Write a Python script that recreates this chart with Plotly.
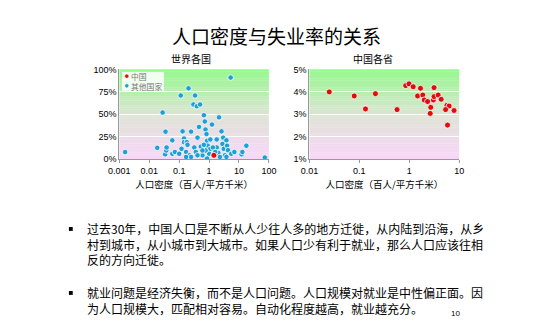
import plotly.graph_objects as go

# ---- data ----
china_density = [1.45]
china_unemp = [4.3]

world_density = [0.00156, 0.0185, 0.028, 0.035, 0.034, 0.037, 0.038, 0.059, 0.059, 0.072,
                 0.113, 0.13, 0.145, 0.145, 0.12, 0.10, 0.205, 0.18, 0.19, 0.17,
                 0.22, 0.25, 0.30, 0.34, 0.39, 0.50, 0.46, 0.41, 0.32, 0.36,
                 0.53, 0.60, 0.67, 0.72, 0.76, 0.82, 0.86, 0.90, 1.1, 1.0,
                 1.1, 1.25, 1.8, 1.8, 2.05, 2.15, 2.6, 2.97, 2.8, 3.1,
                 3.4, 3.8, 4.0, 4.3, 5.5, 7.0, 5.26, 12.2, 13.0, 17.6,
                 73.0, 1.35, 1.4, 0.76, 0.67, 0.60, 0.86, 2.3, 3.8, 1.6,
                 0.25, 0.17, 0.41]
world_unemp = [7.9, 12.6, 52, 30.7, 5.4, 9.7, 13, 21, 6, 8,
               71, 31, 23, 19, 11.5, 6, 79, 19, 16, 8,
               4.3, 30.7, 61, 71, 59, 61, 36, 24, 13, 8,
               14, 4.3, 49, 42, 33, 28, 20.6, 15, 11.5, 6,
               22, 38.6, 22, 13, 7, 46.6, 31, 24, 17, 11.5,
               4.3, 21, 15, 10, 6, 8, 91, 5.4, 8, 15,
               1.8, 13, 4.3, 9.7, 16, 9.7, 0.7, 2.5, 2.5, 8,
               2.5, 2.5, 4.3]

prov_density = [0.025, 0.079, 0.133, 0.21, 0.57, 0.85, 0.99, 1.2, 1.47, 1.68,
                1.87, 2.0, 2.33, 2.63, 2.7, 3.04, 3.14, 3.14, 3.8, 4.36,
                5.7, 6.3, 5.35, 7.9, 5.85]
prov_unemp = [4.0, 3.82, 3.24, 3.92, 3.21, 4.28, 4.36, 4.23, 3.82, 4.16,
              3.86, 3.64, 3.57, 3.04, 3.31, 3.64, 3.79, 4.19, 3.86, 3.67,
              3.4, 3.37, 3.21, 3.17, 2.52]

left_xticks = [0.001, 0.01, 0.1, 1, 10, 100]
left_xticklabels = ["0.001", "0.01", "0.1", "1", "10", "100"]
left_yticks = [0, 25, 50, 75, 100]
left_yticklabels = ["0%", "25%", "50%", "75%", "100%"]
right_xticks = [0.01, 0.1, 1, 10]
right_xticklabels = ["0.01", "0.1", "1", "10"]
right_yticks = [1, 2, 3, 4, 5]
right_yticklabels = ["1%", "2%", "3%", "4%", "5%"]

legend_labels = ["中国", "其他国家"]
title = "人口密度与失业率的关系"
sub_left = "世界各国"
sub_right = "中国各省"
xlabel = "人口密度（百人/平方千米）"
para1 = ["过去30年，中国人口是不断从人少往人多的地方迁徙，从内陆到沿海，从乡",
         "村到城市，从小城市到大城市。如果人口少有利于就业，那么人口应该往相",
         "反的方向迁徙。"]
para2 = ["就业问题是经济失衡，而不是人口问题。人口规模对就业是中性偏正面。因",
         "为人口规模大，匹配相对容易。自动化程度越高，就业越充分。"]

W, H = 540, 329
FONT = "Noto Sans CJK SC"
BLUE = "#1ea0d6"
RED = "#e00d0d"

fig = go.Figure()
fig.add_trace(go.Scatter(x=world_density, y=world_unemp, mode="markers", name=legend_labels[1],
                         marker=dict(color=BLUE, size=5.5, line=dict(color="white", width=0.8)),
                         xaxis="x", yaxis="y", showlegend=False))
fig.add_trace(go.Scatter(x=china_density, y=china_unemp, mode="markers", name=legend_labels[0],
                         marker=dict(color=RED, size=6, line=dict(color="white", width=0.8)),
                         xaxis="x", yaxis="y", showlegend=False))
fig.add_trace(go.Scatter(x=prov_density, y=prov_unemp, mode="markers", name="省",
                         marker=dict(color=RED, size=6, line=dict(color="white", width=0.8)),
                         xaxis="x2", yaxis="y2", showlegend=False))


def px_x(p):
    return p / W


def px_y(p):
    return 1 - p / H


ydom = [px_y(159), px_y(66.5)]
xdom1 = [px_x(112.3), px_x(267.3)]
xdom2 = [px_x(309.3), px_x(464.5)]

axis_common = dict(showline=True, linecolor="#999999", linewidth=1, mirror=False,
                   tickfont=dict(family="Liberation Sans, Arial", size=9, color="#000"),
                   zeroline=False)

fig.update_layout(
    width=W, height=H, margin=dict(l=0, r=0, t=0, b=0),
    paper_bgcolor="white", plot_bgcolor="rgba(0,0,0,0)",
    font=dict(family=FONT, color="#000"),
    xaxis=dict(type="log", domain=xdom1, range=[-3, 2], tickvals=left_xticks,
               ticktext=left_xticklabels, ticks="outside", ticklen=3, tickcolor="#999",
               showgrid=False, anchor="y",
               title=dict(text=xlabel, font=dict(size=9.5, family=FONT), standoff=6),
               **axis_common),
    yaxis=dict(domain=ydom, range=[0, 100], tickvals=left_yticks, ticktext=left_yticklabels,
               showgrid=True, gridcolor="white", gridwidth=1.2, ticks="", anchor="x",
               **axis_common),
    xaxis2=dict(type="log", domain=xdom2, range=[-2, 1], tickvals=right_xticks,
                ticktext=right_xticklabels, ticks="outside", ticklen=3, tickcolor="#999",
                showgrid=False, anchor="y2",
                title=dict(text=xlabel, font=dict(size=9.5, family=FONT), standoff=6),
                **axis_common),
    yaxis2=dict(domain=ydom, range=[1, 5], tickvals=right_yticks, ticktext=right_yticklabels,
                showgrid=True, gridcolor="white", gridwidth=1.2, ticks="", anchor="x2",
                **axis_common),
    showlegend=False,
)

# gradient backgrounds
stops = [(0.0, (250, 214, 250)), (0.45, (224, 226, 216)), (1.0, (150, 248, 142))]


def col_at(t):
    for (t0, c0), (t1, c1) in zip(stops[:-1], stops[1:]):
        if t0 <= t <= t1:
            f = (t - t0) / (t1 - t0)
            return "rgb(%d,%d,%d)" % tuple(round(a + (b - a) * f) for a, b in zip(c0, c1))
    return "rgb(%d,%d,%d)" % stops[-1][1]


N = 40
shapes = []
for xr, yr in (("x domain", "y domain"), ("x2 domain", "y2 domain")):
    for i in range(N):
        y0 = i / N
        y1 = (i + 1) / N
        shapes.append(dict(type="rect", xref=xr, yref=yr, x0=0, x1=1, y0=y0, y1=y1 + 0.002,
                           fillcolor=col_at((y0 + y1) / 2), line=dict(width=0), layer="below"))

# manual compact legend
shapes.append(dict(type="rect", xref="paper", yref="paper", x0=px_x(115), x1=px_x(158.5),
                   y0=px_y(88.5), y1=px_y(69), fillcolor="rgba(255,255,255,0.85)",
                   line=dict(width=0), layer="above"))
for yy, c in ((73.4, RED), (83.4, BLUE)):
    r = 2.2
    shapes.append(dict(type="circle", xref="paper", yref="paper",
                       x0=px_x(120 - r), x1=px_x(120 + r), y0=px_y(yy + r), y1=px_y(yy - r),
                       fillcolor=c, line=dict(color="white", width=0.6), layer="above"))

# bullets
for by in (231, 297):
    shapes.append(dict(type="rect", xref="paper", yref="paper", x0=px_x(60), x1=px_x(64),
                       y0=px_y(by + 2), y1=px_y(by - 2), fillcolor="black",
                       line=dict(width=0), layer="above"))
fig.update_layout(shapes=shapes)

ann = []


def add(text, x, y, size, family=FONT, xanchor="center", color="#000", yanchor="middle"):
    ann.append(dict(text=text, x=px_x(x), y=px_y(y), xref="paper", yref="paper",
                    xanchor=xanchor, yanchor=yanchor, showarrow=False, borderpad=0,
                    align="left" if xanchor == "left" else "center",
                    font=dict(size=size, family=family, color=color)))


add(title, 275, 31, 19)
add(sub_left, 187, 55, 10)
add(sub_right, 375, 55, 10)
add("<br>".join(legend_labels), 123.5, 78.4, 7.8, xanchor="left", color="#777")

add("<br>".join(para1), 77.5, 246.3, 12, xanchor="left")
add("<br>".join(para2), 77.5, 304.3, 12, xanchor="left")
add("10", 461, 318, 8, family="Liberation Sans")
fig.update_layout(annotations=ann)

fig.write_html("out.html")
